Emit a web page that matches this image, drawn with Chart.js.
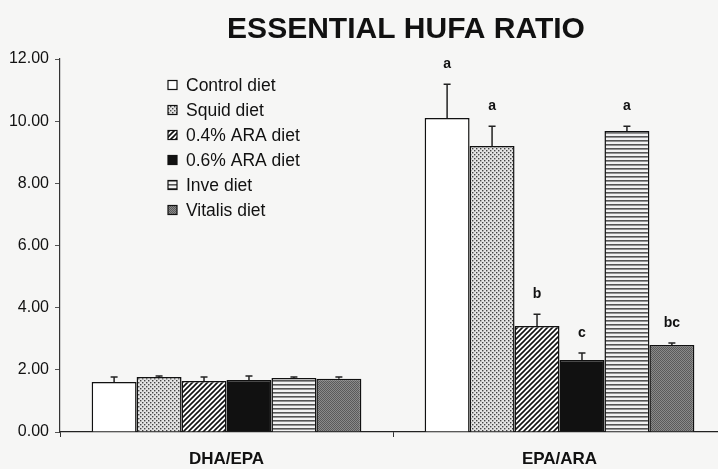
<!DOCTYPE html>
<html>
<head>
<meta charset="utf-8">
<script src="https://cdn.jsdelivr.net/npm/chart.js@4.4.1/dist/chart.umd.min.js"></script>
<style>
  html, body { margin: 0; padding: 0; background: #f6f6f5; overflow: hidden; }
  #wrap { position: absolute; left: 0; top: 0; width: 730px; height: 469px; }
</style>
</head>
<body>
<div id="wrap"><canvas id="c" width="730" height="469"></canvas></div>
<script>
// Ratio HUFA esencial por dieta
const categorias = ['DHA/EPA', 'EPA/ARA'];
const dietas = ['Control diet', 'Squid diet', '0.4% ARA diet', '0.6% ARA diet', 'Inve diet', 'Vitalis diet'];

const control = [1.61, 10.10];
const squid   = [1.77, 9.20];
const ara04   = [1.64, 3.41];
const ara06   = [1.67, 2.32];
const inve    = [1.74, 9.68];
const vitalis = [1.71, 2.80];

const errControl = [0.16, 1.09];
const errSquid   = [0.03, 0.64];
const errAra04   = [0.13, 0.38];
const errAra06   = [0.13, 0.22];
const errInve    = [0.03, 0.16];
const errVitalis = [0.06, 0.06];

// letras de significancia (solo EPA/ARA)
const letras = [['', 'a'], ['', 'a'], ['', 'b'], ['', 'c'], ['', 'a'], ['', 'bc']];

const yTicks = [0, 2, 4, 6, 8, 10, 12];

const series = [control, squid, ara04, ara06, inve, vitalis];
const errores = [errControl, errSquid, errAra04, errAra06, errInve, errVitalis];

function pat(size, draw) {
  const c = document.createElement('canvas');
  c.width = size; c.height = size;
  const x = c.getContext('2d');
  draw(x, size);
  return x.createPattern(c, 'repeat');
}

const ctx0 = document.getElementById('c').getContext('2d');
const fills = [
  '#ffffff',
  pat(4, (x) => { x.fillStyle = '#e4e4e4'; x.fillRect(0, 0, 4, 4); x.fillStyle = '#444'; x.fillRect(0, 0, 1.4, 1.4); x.fillRect(2, 2, 1.4, 1.4); }),
  pat(5, (x, s) => {
    x.fillStyle = '#fff'; x.fillRect(0, 0, s, s);
    x.strokeStyle = '#111'; x.lineWidth = 1.6;
    x.beginPath();
    x.moveTo(-1, s + 1); x.lineTo(s + 1, -1);
    x.moveTo(-1, 1); x.lineTo(1, -1);
    x.moveTo(s - 1, s + 1); x.lineTo(s + 1, s - 1);
    x.stroke();
  }),
  '#111111',
  pat(4, (x) => { x.fillStyle = '#f2f2f2'; x.fillRect(0, 0, 4, 4); x.fillStyle = '#555'; x.fillRect(0, 0, 4, 1.6); }),
  pat(2, (x) => { x.fillStyle = '#8a8a8a'; x.fillRect(0, 0, 2, 2); x.fillStyle = '#5a5a5a'; x.fillRect(0, 0, 1, 1); x.fillRect(1, 1, 1, 1); })
];

const fondo = {
  id: 'fondo',
  beforeDraw(chart) {
    const c = chart.ctx;
    c.save();
    c.fillStyle = '#f6f6f5';
    c.fillRect(0, 0, chart.width, chart.height);
    c.restore();
  }
};

const extras = {
  id: 'extras',
  afterDatasetsDraw(chart) {
    const c = chart.ctx;
    const y = chart.scales.y;
    c.save();
    // barras de error y letras
    chart.data.datasets.forEach((ds, i) => {
      const meta = chart.getDatasetMeta(i);
      meta.data.forEach((bar, j) => {
        const top = y.getPixelForValue(ds.data[j] + errores[i][j]);
        c.strokeStyle = '#222';
        c.lineWidth = 1.5;
        c.beginPath();
        c.moveTo(bar.x, bar.y);
        c.lineTo(bar.x, top);
        c.moveTo(bar.x - 3.5, top);
        c.lineTo(bar.x + 3.5, top);
        c.stroke();
        const l = letras[i][j];
        if (l) {
          c.fillStyle = '#111';
          c.font = 'bold 14px "Liberation Sans", Arial, sans-serif';
          c.textAlign = 'center';
          c.textBaseline = 'middle';
          c.fillText(l, bar.x, top - 20);
        }
      });
    });
    // leyenda
    c.font = '17.5px "Liberation Sans", Arial, sans-serif';
    c.textAlign = 'left';
    c.textBaseline = 'middle';
    dietas.forEach((d, i) => {
      const yy = 85 + i * 25;
      c.fillStyle = fills[i];
      c.fillRect(168, yy - 4.5, 9, 9);
      c.strokeStyle = '#111';
      c.lineWidth = 1.2;
      c.strokeRect(168, yy - 4.5, 9, 9);
      c.fillStyle = '#111';
      c.fillText(d, 186, yy + 1);
    });
    // título
    c.font = 'bold 30px "Liberation Sans", Arial, sans-serif';
    c.textAlign = 'center';
    c.textBaseline = 'alphabetic';
    c.fillText('ESSENTIAL HUFA RATIO', 406, 38);
    c.restore();
  }
};

new Chart(ctx0, {
  type: 'bar',
  data: {
    labels: categorias,
    datasets: dietas.map((d, i) => ({
      label: d,
      data: series[i],
      backgroundColor: fills[i],
      borderColor: '#111',
      borderWidth: 1.5,
      borderSkipped: 'bottom',
      categoryPercentage: 0.81,
      barPercentage: 1.0
    }))
  },
  options: {
    responsive: false,
    animation: false,
    layout: { padding: { top: 59, right: 4, left: 0, bottom: 0 } },
    plugins: { legend: { display: false }, title: { display: false }, tooltip: { enabled: false } },
    scales: {
      x: {
        grid: { display: true, drawOnChartArea: false, tickLength: 5, color: '#333' },
        border: { color: '#222', width: 1.2 },
        ticks: { color: '#111', padding: 12, font: { family: '"Liberation Sans", Arial, sans-serif', size: 17, weight: 'bold' } },
        afterFit(s) { s.height = 37; }
      },
      y: {
        min: 0, max: 12,
        afterBuildTicks(s) { s.ticks = yTicks.map(v => ({ value: v })); },
        grid: { display: true, drawOnChartArea: false, tickLength: 5, color: '#555' },
        border: { color: '#333', width: 1.2 },
        ticks: { color: '#111', padding: 6, callback: v => v.toFixed(2), font: { family: '"Liberation Sans", Arial, sans-serif', size: 16 } },
        afterFit(s) { s.width = 60; }
      }
    }
  },
  plugins: [fondo, extras]
});
</script>
</body>
</html>
